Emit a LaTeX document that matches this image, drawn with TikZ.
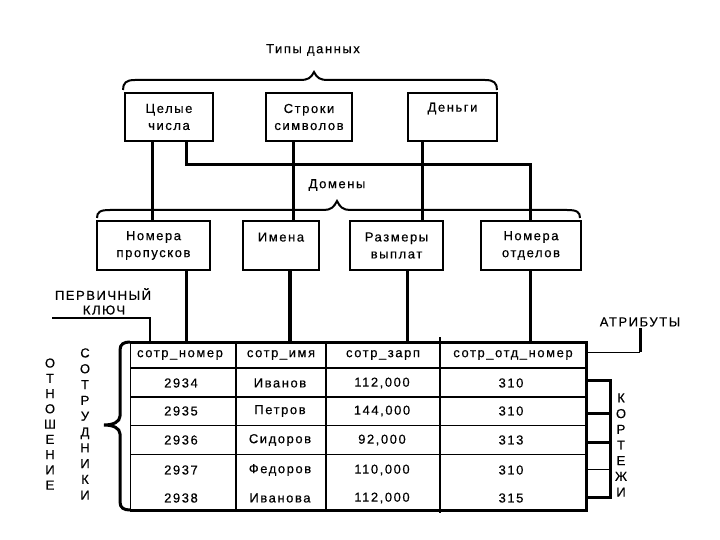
\documentclass[tikz,border=0pt]{standalone}
\usepackage{fontspec}
\setmainfont{Liberation Sans}[LetterSpace=12, FakeBold=0.4]
\begin{document}
\begin{tikzpicture}[x=1pt,y=-1pt,
  txt/.style={font=\fontsize{13}{17}\selectfont, inner sep=1pt},
  box/.style={draw, line width=1.5pt, txt, align=center, inner sep=0pt, minimum height=48pt},
  conn/.style={line width=3pt},
  thickconn/.style={line width=4.5pt},
  thinline/.style={line width=1pt},
  midline/.style={line width=2pt},
  bracestyle/.style={line width=2pt},
  vert/.style={align=center, inner sep=0pt}]
\useasboundingbox (0,0) rectangle (720,540);

% ---- data types
\node[txt] (types) at (313,50) {Типы данных};
\draw[bracestyle] (123,90) .. controls (123,83) and (126,80) .. (135,80) -- (300,80)
  .. controls (308,80) and (311,78) .. (314,72) .. controls (317,78) and (320,80) .. (328,80)
  -- (485,80) .. controls (494,80) and (497,83) .. (497,90);

\node[box, minimum width=88pt] (int) at (169,117) {Целые\\числа};
\node[box, minimum width=86pt] (str) at (309,117) {Строки\\символов};
\node[box, minimum width=89pt] (money) at (452.5,117) {Деньги\\\phantom{Д}};

% ---- domains
\node[txt] (dom) at (337,185) {Домены};
\draw[bracestyle] (97,218) .. controls (97,212) and (100,210) .. (110,210) -- (324,210)
  .. controls (331,210) and (334,207) .. (337,201) .. controls (340,207) and (343,210) .. (350,210)
  -- (567,210) .. controls (577,210) and (580,212) .. (580,218);

\node[box, minimum width=113pt, minimum height=49pt] (np) at (153.5,245.5) {Номера\\пропусков};
\node[box, minimum width=76pt, minimum height=49pt] (imena) at (281,245.5) {Имена\\\phantom{И}};
\node[box, minimum width=93pt, minimum height=49pt] (razm) at (396.5,245.5) {Размеры\\выплат};
\node[box, minimum width=100pt, minimum height=49pt] (no) at (531,245.5) {Номера\\отделов};

\coordinate (xa) at (152,0);
\coordinate (xb) at (186,0);
\coordinate (bend) at (530,165);
\coordinate (xs) at (293,0);
\coordinate (xm) at (422,0);
\draw[conn] (int.south -| xa) -- (np.north -| xa);
\draw[conn] (int.south -| xb) |- (bend) -- (no.north -| bend);
\draw[conn] (str.south -| xs) -- (imena.north -| xs);
\draw[conn] (money.south -| xm) -- (razm.north -| xm);

% ---- table
\node[minimum width=456pt, minimum height=168pt, inner sep=0pt, outer sep=0pt] (tab) at (358,426) {};
\coordinate (d1) at (186,0);
\coordinate (d2) at (290,0);
\coordinate (d3) at (407,0);
\coordinate (d4) at (530,0);
\draw[conn] (np.south -| d1) -- (tab.north -| d1);
\draw[thickconn] (imena.south -| d2) -- (tab.north -| d2);
\draw[conn] (razm.south -| d3) -- (tab.north -| d3);
\draw[conn] (no.south -| d4) -- (tab.north -| d4);

\draw[thinline] (tab.south west) -- (tab.north west);
\draw[line width=3pt] (tab.north west) -- (tab.north east) -- (tab.south east) -- (tab.south west);
% column dividers
\draw[line width=1.2pt] (236,342) -- (236,510);
\draw[line width=1.2pt] (326,342) -- (326,510);
\draw[line width=1.2pt] (440,337) -- (440,513);
% row dividers
\draw[midline] (tab.west |- 0,368) -- (tab.east |- 0,368);
\draw[midline] (tab.west |- 0,397) -- (tab.east |- 0,397);
\draw[thinline] (tab.west |- 0,425) -- (tab.east |- 0,425);
\draw[thinline] (tab.west |- 0,454) -- (tab.east |- 0,454);

\node[txt] (h1) at (180,355) {сотр\_номер};
\node[txt] (h2) at (281,355) {сотр\_имя};
\node[txt] (h3) at (383,355) {сотр\_зарп};
\node[txt] (h4) at (513,355) {сотр\_отд\_номер};

\foreach \y/\a/\b/\c/\d [count=\i] in {383/2934/Иванов/{112,000}/310,
                                      411/2935/Петров/{144,000}/310,
                                      440/2936/Сидоров/{92,000}/313,
                                      470/2937/Федоров/{110,000}/310,
                                      498/2938/Иванова/{112,000}/315}{
  \node[txt] (r\i a) at (181,\y) {\a};
  \node[txt] (r\i b) at (280,\y) {\b};
  \node[txt] (r\i c) at (382,\y) {\c};
  \node[txt] (r\i d) at (511,\y) {\d};
}

% ---- left brace (relation)
\draw[line width=3pt] (tab.north west) .. controls (124,342) and (120,344) .. (120,350) -- (120,416)
  .. controls (120,422) and (113,425) .. (104,425) .. controls (113,425) and (120,428) .. (120,434)
  -- (120,502) .. controls (120,508) and (124,510) .. (tab.south west);

\node[vert, font=\fontsize{13}{15.25}\selectfont] (otn) at (50,424) {О\\Т\\Н\\О\\Ш\\Е\\Н\\И\\Е};
\node[vert, font=\fontsize{13}{15.8}\selectfont] (sotr) at (85,424) {С\\О\\Т\\Р\\У\\Д\\Н\\И\\К\\И};

% ---- primary key
\node[txt] (pk1) at (103,294) {ПЕРВИЧНЫЙ};
\node[txt] (pk2) at (104,310) {КЛЮЧ};
\coordinate (pk0) at (52,318);
\coordinate (xpk) at (150,0);
\draw[line width=2.5pt] (pk0) -| (tab.north -| xpk);

% ---- attributes
\node[txt] (attr) at (640,322) {АТРИБУТЫ};
\coordinate (a1) at (640,352);
\draw[thinline] (tab.east |- a1) -- (a1);
\draw[line width=3pt] (a1) -- (attr.south -| a1);

% ---- tuples
\coordinate (kt) at (610,380);
\coordinate (kb) at (610,497);
\coordinate (k2) at (610,413);
\coordinate (k3) at (610,442);
\coordinate (k4) at (610,469);
\draw[line width=3pt] (tab.east |- kt) -- (kt) -- (kb) -- (tab.east |- kb);
\draw[line width=3pt] (tab.east |- k2) -- (k2);
\draw[line width=3pt] (tab.east |- k3) -- (k3);
\draw[thinline] (tab.east |- k4) -- (k4);
\node[vert, font=\fontsize{13}{15.7}\selectfont] (kort) at (621,445) {К\\О\\Р\\Т\\Е\\Ж\\И};
\end{tikzpicture}
\end{document}
